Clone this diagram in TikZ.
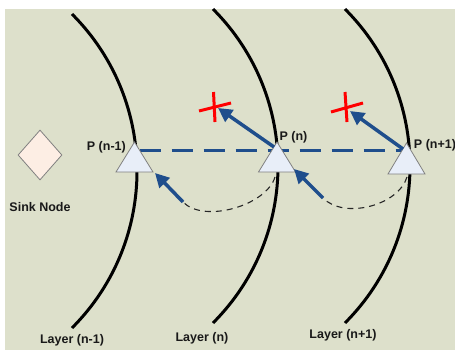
\documentclass[tikz,border=0pt]{standalone}
\usepackage{fontspec}
\setmainfont{Liberation Sans}
\usetikzlibrary{arrows.meta,shapes.geometric}
\definecolor{bgc}{RGB}{221,224,203}
\definecolor{darkblue}{RGB}{31,78,140}
\definecolor{trifill}{RGB}{232,238,248}
\definecolor{sinkfill}{RGB}{253,238,228}
\begin{document}
\begin{tikzpicture}[x=1pt,y=1pt,
  layerarc/.style={line width=3pt, black},
  tri/.style={fill=trifill, draw=gray, line width=0.8pt, line join=miter},
  lbl/.style={font=\bfseries\fontsize{12.5}{14}\selectfont, inner sep=0pt, text=black!90},
  link/.style={darkblue, line width=3pt, dash pattern=on 21pt off 11pt},
  barr/.style={darkblue, line width=3.5pt, -{Triangle[length=14pt,width=14pt]}},
  cross/.style={red, line width=3pt},
  ret/.style={black!85, line width=1.1pt, dash pattern=on 6pt off 5pt},
  sink/.style={diamond, draw=gray, fill=sinkfill, line width=0.8pt, minimum width=44pt, minimum height=50pt, inner sep=0pt}]
\useasboundingbox (0,0) rectangle (455,-351);
\fill[white] (0,0) rectangle (455,-351);
\fill[bgc] (5,-9) rectangle (455,-350);
% layer arcs
\draw[layerarc] (-85,-171) ++(45:222) arc[start angle=45,end angle=-45,radius=222];
\draw[layerarc] (56,-166) ++(45:222) arc[start angle=45,end angle=-45,radius=222];
\draw[layerarc] (188,-166) ++(45:222) arc[start angle=45,end angle=-45,radius=222];
% key points
\coordinate (p1) at (134.5,-142);
\coordinate (p2) at (277,-142);
\coordinate (p3) at (406.5,-143);
\coordinate (l1) at (139.5,-150);
\coordinate (l3) at (402.5,-150);
\coordinate (s2) at (275,-177);
\coordinate (s3) at (407,-177);
\coordinate (r1) at (183,-202);
\coordinate (r2) at (323,-198);
\coordinate (t1) at (155,-173);
\coordinate (t2) at (294,-169);
\coordinate (a2) at (274,-147);
\coordinate (a3) at (403,-149);
\coordinate (h2) at (218,-108);
\coordinate (h3) at (350,-111);
% link line
\draw[link] (l1) -- (l3);
% return curves
\draw[ret] (s2) .. controls (266.3,-205.7) and (203.9,-223.6) .. (r1);
\draw[ret] (s3) .. controls (398.3,-205.7) and (343.9,-219.6) .. (r2);
% triangles
\draw[tri] (p1) -- ++(18.5,-30) -- ++(-37,0) -- cycle;
\draw[tri] (p2) -- ++(18.5,-30) -- ++(-37,0) -- cycle;
\draw[tri] (p3) -- ++(18.5,-31) -- ++(-37,0) -- cycle;
% blue arrows
\draw[barr] (r1) -- (t1);
\draw[barr] (r2) -- (t2);
\draw[barr] (a2) -- (h2);
\draw[barr] (a3) -- (h3);
% red crosses
\draw[cross] (199,-111) -- (231,-103);
\draw[cross] (213.5,-92) -- (215,-122);
\draw[cross] (331,-112) -- (363,-103);
\draw[cross] (345,-92) -- (347,-122);
% sink
\node[sink] (sink) at (40,-155) {};
% labels
\node[lbl] (sinklbl) at (40,-207) {Sink Node};
\node[lbl, anchor=east] (lp1) at (126,-147) {P (n-1)};
\node[lbl] (lp2) at (293.5,-137) {P (n)};
\node[lbl] (lp3) at (435,-145) {P (n+1)};
\node[lbl] (ll1) at (72,-340) {Layer (n-1)};
\node[lbl] (ll2) at (202,-338) {Layer (n)};
\node[lbl] (ll3) at (343,-335) {Layer (n+1)};
\end{tikzpicture}
\end{document}
